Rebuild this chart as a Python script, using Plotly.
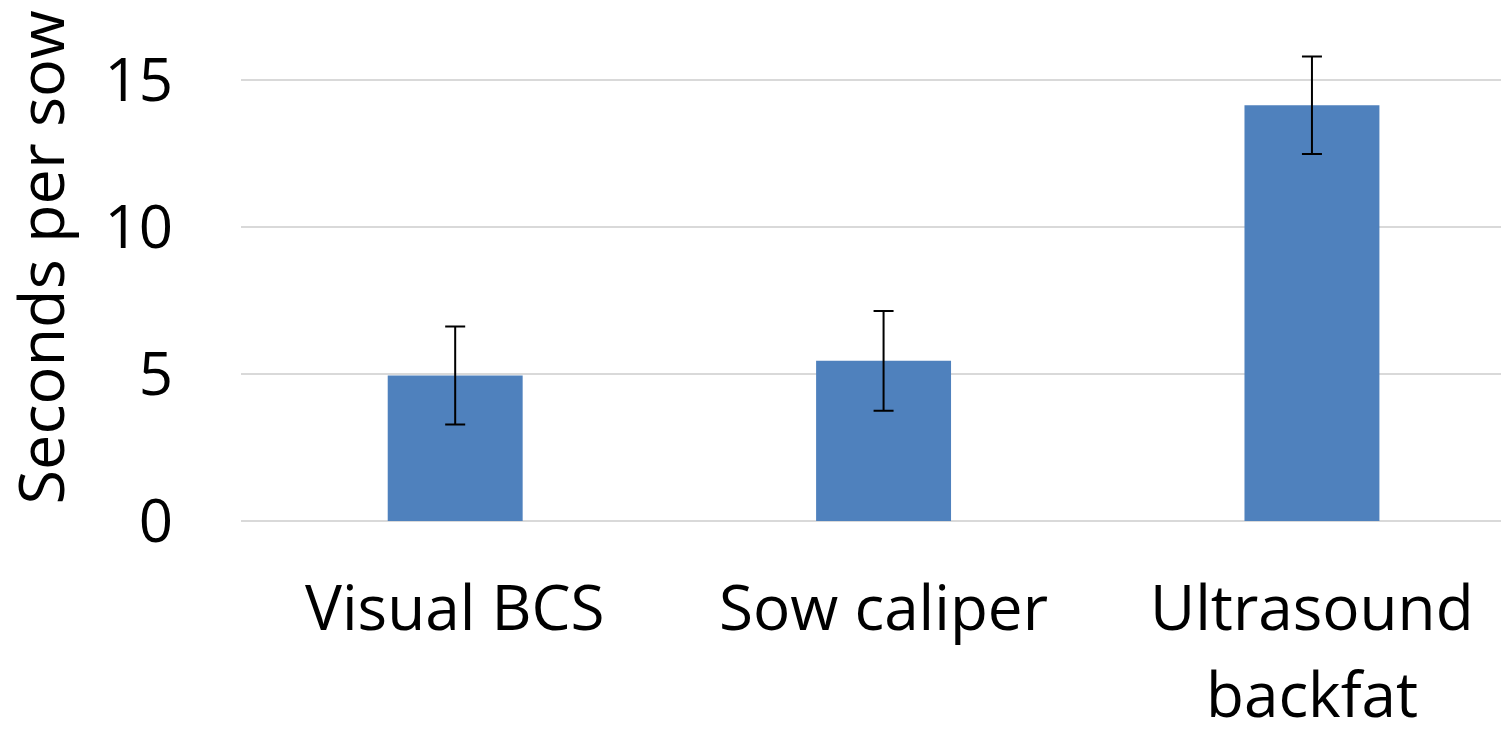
import plotly.graph_objects as go

# data
methods = ["Visual BCS", "Sow caliper", "Ultrasound\nbackfat"]
seconds = [4.95, 5.45, 14.15]
errors = [1.67, 1.70, 1.66]
y_ticks = [0, 5, 10, 15]

fig = go.Figure()

fig.add_trace(go.Bar(
    x=methods,
    y=seconds,
    width=0.315,
    marker=dict(color='#4F81BD', line=dict(width=0)),
    error_y=dict(type='data', array=errors, visible=True,
                 color='#000000', thickness=2, width=10),
    hoverinfo='skip'
))

# category labels as annotations so the two-line label spacing can be set
labels = []
for m in methods:
    for j, line in enumerate(m.split('\n')):
        labels.append(dict(
            text=line, x=m, xref='x', y=0, yref='y',
            xanchor='center', yanchor='middle', yshift=-85 - j * 87,
            showarrow=False, font=dict(size=62)
        ))

# page body has an 8px margin, so the figure is a bit smaller than the window
fig.update_layout(
    width=1501, height=723,
    plot_bgcolor='white',
    paper_bgcolor='white',
    font=dict(family='Open Sans', color='#000000', size=60),
    margin=dict(l=233, r=0, t=34, b=210),
    showlegend=False,
    xaxis=dict(range=[-0.5, 2.46], showgrid=False, showline=False,
               showticklabels=False, automargin=False),
    yaxis=dict(range=[0, 16.3], tickvals=y_ticks, showline=False,
               gridcolor='#D9D9D9', gridwidth=2,
               zeroline=True, zerolinecolor='#D9D9D9', zerolinewidth=2,
               ticks='outside', ticklen=55, tickcolor='rgba(0,0,0,0)',
               tickfont=dict(size=60), automargin=False),
    annotations=labels + [dict(
        text='Seconds per sow', textangle=-90,
        xref='paper', yref='paper', x=-0.159, y=0.03,
        xanchor='center', yanchor='bottom', showarrow=False,
        font=dict(size=63)
    )]
)

fig.write_html("out.html")
